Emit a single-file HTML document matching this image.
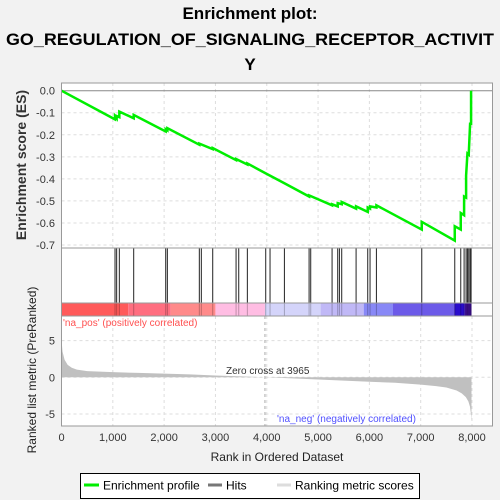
<!DOCTYPE html>
<html><head><meta charset="utf-8"><style>
body{margin:0;background:#f2f2f2;}
svg{display:block;font-family:"Liberation Sans",Arial,sans-serif;}
</style></head><body>
<svg id="chart" width="500" height="500" viewBox="0 0 500 500">
<rect x="0" y="0" width="500" height="500" fill="#f2f2f2"/>
<text x="250" y="19" text-anchor="middle" font-size="17" font-weight="bold">Enrichment plot:</text>
<text x="250" y="45" text-anchor="middle" font-size="17" font-weight="bold" textLength="488" lengthAdjust="spacingAndGlyphs">GO_REGULATION_OF_SIGNALING_RECEPTOR_ACTIVIT</text>
<text x="250" y="70" text-anchor="middle" font-size="17" font-weight="bold">Y</text>
<rect x="61.5" y="83" width="431" height="343" fill="#fff" stroke="none"/>
<g id="grid"></g>
<g id="top"></g>
<g id="hits"></g>
<g id="cbar"></g>
<g id="bottom"></g>
<g id="axes"></g>
<text transform="translate(26,165) rotate(-90)" text-anchor="middle" font-size="14" font-weight="bold" fill="#333">Enrichment score (ES)</text>
<text transform="translate(36,370) rotate(-90)" text-anchor="middle" font-size="12" fill="#222">Ranked list metric (PreRanked)</text>
<text x="277" y="461" text-anchor="middle" font-size="12" fill="#222">Rank in Ordered Dataset</text>
<g>
<rect x="80.5" y="473.5" width="339" height="25" fill="#fff" stroke="#000"/>
<line x1="84" y1="485" x2="99" y2="485" stroke="#00ee00" stroke-width="3"/>
<text x="103" y="489.5" font-size="12">Enrichment profile</text>
<line x1="208" y1="485" x2="222" y2="485" stroke="#777" stroke-width="3"/>
<text x="226" y="489.5" font-size="12">Hits</text>
<line x1="277" y1="485" x2="291" y2="485" stroke="#ddd" stroke-width="3"/>
<text x="295" y="489.5" font-size="12">Ranking metric scores</text>
</g>
</svg>
<script>
const xTicks=[0,1000,2000,3000,4000,5000,6000,7000,8000];
const esTicks=[0.0,-0.1,-0.2,-0.3,-0.4,-0.5,-0.6,-0.7];
const metricTicks=[5,0,-5];
const hitRanks=[1043,1075,1127,1407,2031,2063,2686,2725,2947,3402,3454,3622,3980,4064,4344,4825,4857,5273,5383,5416,5461,5741,5968,6013,6137,7021,7664,7781,7846,7885,7911,7937,7963,7982];
const esRanks=[0,1043,1043,1075,1075,1127,1127,1407,1407,2031,2031,2063,2063,2686,2686,2947,2947,3402,3402,3622,3622,3980,4344,4825,4825,5273,5273,5383,5383,5461,5461,5741,5741,5968,5968,6013,6013,6137,6137,7021,7021,7664,7664,7781,7781,7846,7846,7885,7885,7911,7937,7937,7963,7982,7982];
const esValues=[0,-0.13,-0.115,-0.125,-0.115,-0.12,-0.095,-0.125,-0.11,-0.185,-0.175,-0.18,-0.17,-0.245,-0.24,-0.265,-0.26,-0.315,-0.31,-0.335,-0.33,-0.375,-0.42,-0.48,-0.475,-0.52,-0.515,-0.525,-0.51,-0.515,-0.505,-0.535,-0.525,-0.55,-0.53,-0.535,-0.525,-0.53,-0.52,-0.63,-0.595,-0.68,-0.615,-0.63,-0.555,-0.565,-0.48,-0.485,-0.385,-0.285,-0.29,-0.285,-0.15,-0.15,0];
const metricRanks=[0,20,60,120,200,300,500,1000,1500,2000,2500,3000,3500,3965,4500,5000,5500,6000,6500,7000,7300,7500,7700,7800,7880,7930,7960,7980,7990];
const metricValues=[5.1,3.5,2.4,1.7,1.3,1.05,0.85,0.7,0.6,0.5,0.4,0.25,0.12,0,-0.15,-0.3,-0.45,-0.6,-0.75,-1.0,-1.2,-1.4,-1.8,-2.2,-2.7,-3.3,-4.0,-5.0,-6.0];
const cbarStops=[0,1300,2130,3000,3965,5050,5890,6460,7660,7860,7990];
const cbarColors=['#ff5a5a','#ff6e80','#ff8a8a','#ffbde3','#d4d4fa','#c0b8f6','#8888f6','#6c5ae8','#2a0ccc','#4410a0'];
const NS='http://www.w3.org/2000/svg';
const X=r=>61.5+r*410.5/8000;
const YE=v=>90.7-v*220.4;
const YM=v=>377.3-v*7.33;
function mk(parent,tag,attrs){const e=document.createElementNS(NS,tag);for(const k in attrs)e.setAttribute(k,attrs[k]);document.getElementById(parent).appendChild(e);return e;}
// grid
xTicks.forEach(t=>{
 const g=mk('grid','line',{x1:X(t),x2:X(t),y1:83,y2:248,stroke:'#ddd','stroke-dasharray':'3,3'});
 
 
 const g2=mk('grid','line',{x1:X(t),x2:X(t),y1:316,y2:426,stroke:'#ddd','stroke-dasharray':'3,3'});
 
 
 const tl=mk('axes','text',{x:X(t),y:441,'text-anchor':'middle','font-size':'11',fill:'#333'});
 tl.textContent=t.toLocaleString('en-US');
 
 
});
esTicks.forEach(t=>{
 const g=mk('grid','line',{x1:61.5,x2:492.5,y1:YE(t),y2:YE(t),stroke:t===0?'#888':'#ddd','stroke-dasharray':t===0?'':'3,3'});
 
 
 const tl=mk('axes','text',{x:55,y:YE(t)+4,'text-anchor':'end','font-size':'11',fill:'#333'});
 tl.textContent=t.toFixed(1);
 
 
});
metricTicks.forEach(t=>{
 const g=mk('grid','line',{x1:61.5,x2:492.5,y1:YM(t),y2:YM(t),stroke:'#ddd','stroke-dasharray':'3,3'});
 
 
 const tl=mk('axes','text',{x:55,y:YM(t)+4,'text-anchor':'end','font-size':'11',fill:'#333'});
 tl.textContent=t;
 
 
});
// ES line
const pts=esRanks.map((r,i)=>X(r)+','+YE(esValues[i])).join(' ');
const es=mk('top','polyline',{points:pts,fill:'none',stroke:'#00ee00','stroke-width':'2.5'});


// hits
hitRanks.forEach(r=>{
 const h=mk('hits','line',{x1:X(r),x2:X(r),y1:248,y2:303,stroke:'#222','stroke-width':'1'});
 
 
});
// color bar
cbarColors.forEach((c,i)=>{
 const b=mk('cbar','rect',{x:X(cbarStops[i]),y:303,width:X(cbarStops[i+1])-X(cbarStops[i]),height:13,fill:c});
 
 
});
hitRanks.forEach(r=>{
 const h=mk('cbar','line',{x1:X(r),x2:X(r),y1:303,y2:316,stroke:'rgba(0,0,0,0.25)','stroke-width':'1'});
 
 
});
// metric area
let ap='M'+X(metricRanks[0])+','+YM(0);
metricRanks.forEach((r,i)=>{ap+=' L'+X(r)+','+YM(metricValues[i]);});
ap+=' L'+X(metricRanks[metricRanks.length-1])+','+YM(0)+' Z';
const area=mk('bottom','path',{d:ap,fill:'#c0c0c0',stroke:'none'});


const zl=mk('bottom','line',{x1:X(3965),x2:X(3965),y1:316,y2:426,stroke:'#aaa','stroke-dasharray':'3,3'});


const zt=mk('bottom','text',{x:226,y:374,'font-size':'10',fill:'#333'});
zt.textContent='Zero cross at 3965';


const pl=mk('bottom','text',{x:63,y:326,'font-size':'10',fill:'#ff5050'});
pl.textContent="'na_pos' (positively correlated)";


const nl=mk('bottom','text',{x:277,y:422,'font-size':'10',fill:'#5050ff'});
nl.textContent="'na_neg' (negatively correlated)";


// panel borders
[[83,248],[248,303],[303,316],[316,426]].forEach(([a,b])=>{
 const r=mk('axes','rect',{x:61.5,y:a,width:431,height:b-a,fill:'none',stroke:'#999'});
 
 
});
</script>
</body></html>
